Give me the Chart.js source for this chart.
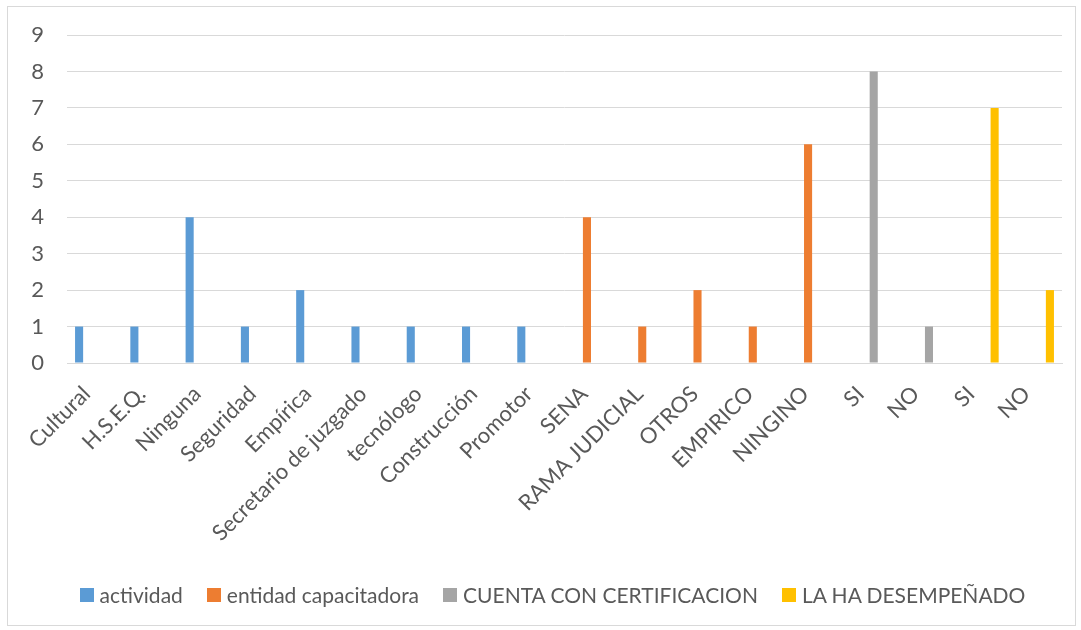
<!DOCTYPE html>
<html>
<head>
<meta charset="utf-8">
<script src="https://cdn.jsdelivr.net/npm/chart.js@4/dist/chart.umd.min.js"></script>
<style>
    html, body { margin: 0; padding: 0; background: #ffffff; }
    #frame {
        position: absolute;
        left: 7px; top: 6px;
        width: 1067px; height: 618px;
        border: 1px solid #d9d9d9;
        background: #ffffff;
        font-family: Lato, "Open Sans", sans-serif;
        color: #595959;
    }
    canvas { display: block; }
    #legend {
        position: absolute;
        left: 22px; right: 0; top: 574px;
        display: flex;
        justify-content: center;
        align-items: center;
        font-size: 21px;
        line-height: 28px;
    }
    .item { display: flex; align-items: center; margin: 0 12px; }
    .swatch { width: 14px; height: 14px; margin-right: 6px; }
</style>
</head>
<body>
<div id="frame">
    <canvas id="chart" width="1067" height="618"></canvas>
    <div id="legend"></div>
</div>
<script>
// categories along the x axis
const categories = [
    'Cultural', 'H.S.E.Q.', 'Ninguna', 'Seguridad', 'Empírica',
    'Secretario de juzgado', 'tecnólogo', 'Construcción', 'Promotor',
    'SENA', 'RAMA JUDICIAL', 'OTROS', 'EMPIRICO', 'NINGINO',
    'SI', 'NO', 'SI', 'NO'
];

// one value list per series (null = no bar in that category)
const actividad = [1, 1, 4, 1, 2, 1, 1, 1, 1, null, null, null, null, null, null, null, null, null];
const entidadCapacitadora = [null, null, null, null, null, null, null, null, null, 4, 1, 2, 1, 6, null, null, null, null];
const cuentaConCertificacion = [null, null, null, null, null, null, null, null, null, null, null, null, null, null, 8, 1, null, null];
const laHaDesempenado = [null, null, null, null, null, null, null, null, null, null, null, null, null, null, null, null, 7, 2];

const yTicks = [0, 1, 2, 3, 4, 5, 6, 7, 8, 9];

const textColor = '#595959';
const gridColor = '#d9d9d9';
const fontFamily = 'Lato, "Open Sans", sans-serif';

function series(label, data, color) {
    return {
        label: label,
        data: data,
        backgroundColor: color,
        borderWidth: 0,
        barPercentage: 0.78,
        categoryPercentage: 0.75
    };
}

const ctx = document.getElementById('chart').getContext('2d');
const chart = new Chart(ctx, {
    type: 'bar',
    data: {
        labels: categories,
        datasets: [
            series('actividad', actividad, '#5b9bd5'),
            series('entidad capacitadora', entidadCapacitadora, '#ed7d31'),
            series('CUENTA CON CERTIFICACION', cuentaConCertificacion, '#a5a5a5'),
            series('LA HA DESEMPEÑADO', laHaDesempenado, '#ffc000')
        ]
    },
    options: {
        responsive: false,
        animation: false,
        layout: {
            padding: { left: 0, right: 13, top: 28, bottom: 62 }
        },
        plugins: {
            tooltip: { enabled: false },
            legend: { display: false }
        },
        scales: {
            x: {
                grid: { display: false },
                border: { display: true, color: gridColor, width: 1 },
                ticks: {
                    color: textColor,
                    font: { family: fontFamily, size: 22 },
                    maxRotation: 45,
                    minRotation: 45,
                    autoSkip: false,
                    padding: 10,
                    labelOffset: -8
                },
                afterFit: (axis) => { axis.height = 200; }
            },
            y: {
                min: 0,
                max: 9,
                afterBuildTicks: (axis) => {
                    axis.ticks = yTicks.map(v => ({ value: v }));
                },
                grid: { color: gridColor, lineWidth: 1, drawTicks: false },
                border: { display: false },
                ticks: {
                    color: textColor,
                    font: { family: fontFamily, size: 22 },
                    padding: 23
                },
                afterFit: (axis) => {
                    axis.width = 59;
                    axis.paddingTop = 0;
                    axis.paddingBottom = 0;
                }
            }
        }
    }
});

// legend built from the chart's own datasets
const legend = document.getElementById('legend');
chart.data.datasets.forEach(ds => {
    const item = document.createElement('span');
    item.className = 'item';
    const swatch = document.createElement('span');
    swatch.className = 'swatch';
    swatch.style.background = ds.backgroundColor;
    const text = document.createElement('span');
    text.textContent = ds.label;
    item.appendChild(swatch);
    item.appendChild(text);
    legend.appendChild(item);
});
</script>
</body>
</html>
